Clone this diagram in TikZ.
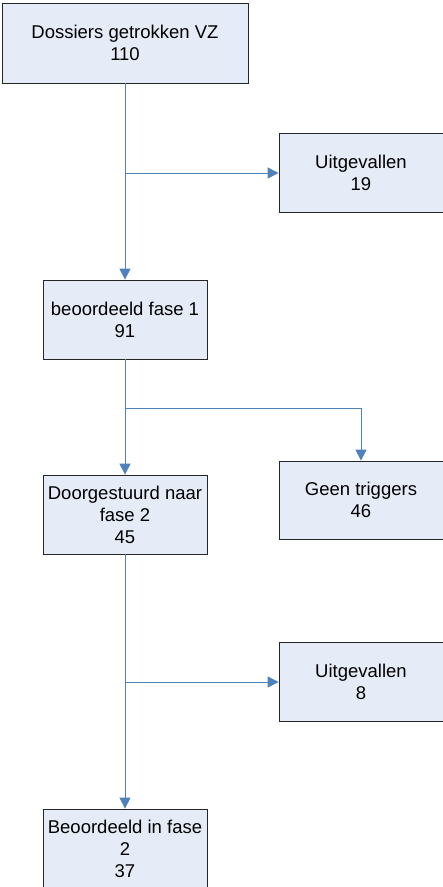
\documentclass[tikz,border=0pt]{standalone}
\usepackage{fontspec}
\setmainfont{Liberation Sans}
\usetikzlibrary{arrows.meta}
\definecolor{boxfill}{RGB}{230,236,247}
\definecolor{flowblue}{RGB}{79,129,189}
\begin{document}
\begin{tikzpicture}[x=1pt,y=-1pt,
  stage/.style={draw=black!85,line width=0.8pt,fill=boxfill,align=center,
    minimum width=164pt,minimum height=79pt,inner sep=0pt,
    font=\fontsize{18.5}{22}\selectfont},
  flow/.style={draw=flowblue,line width=1pt,-{Triangle[length=11pt,width=11pt]}}]
\useasboundingbox (0,0) rectangle (443,887);
%Main column
\node [stage,minimum width=246pt,minimum height=80pt] (dossiers) at (125,43) {Dossiers getrokken VZ\\110};
\node [stage] (fase1) at (125,319.5) {beoordeeld fase 1\\91};
\node [stage] (door) at (125,514.5) {Doorgestuurd naar\\fase 2\\45};
\node [stage,minimum height=80pt] (fase2) at (125,849) {Beoordeeld in fase\\2\\37};
%Side column
\node [stage] (uit1) at (361,173) {Uitgevallen\\19};
\node [stage,minimum height=78pt] (geen) at (361,500) {Geen triggers\\46};
\node [stage] (uit2) at (361,682) {Uitgevallen\\8};
%Branch points
\coordinate (b1) at (125,173);
\coordinate (b2) at (125,408);
\coordinate (b3) at (125,682);
%Flows down
\draw [flow] (dossiers.south) -- (fase1.north);
\draw [flow] (fase1.south) -- (door.north);
\draw [flow] (door.south) -- (fase2.north);
%Flows to the side
\draw [flow] (b1) -- (uit1.west);
\draw [flow] (b2) -| (geen.north);
\draw [flow] (b3) -- (uit2.west);
\end{tikzpicture}
\end{document}
